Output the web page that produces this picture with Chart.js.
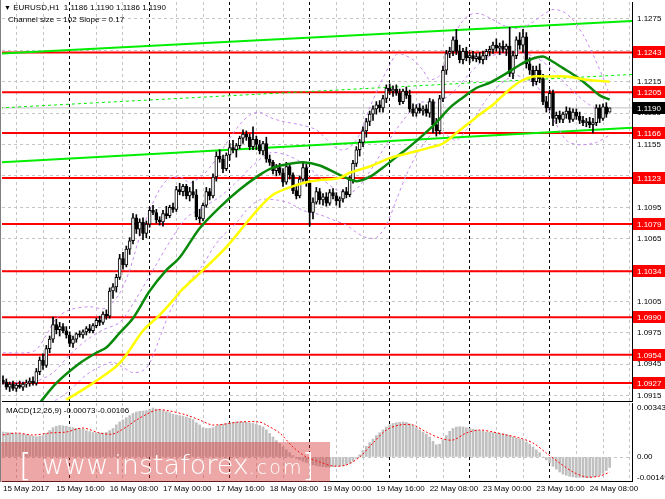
<!DOCTYPE html>
<html><head><meta charset="utf-8">
<script src="https://cdn.jsdelivr.net/npm/chart.js@4.4.0/dist/chart.umd.min.js"></script>
<style>
html,body{margin:0;padding:0;background:#fff;}
#wrap{position:relative;width:665px;height:499px;overflow:hidden;background:#fff;font-family:"Liberation Sans",Arial,sans-serif;}
canvas{position:absolute;left:0;}
#main{top:0;}
#macd{top:403px;}
.txt{position:absolute;font-size:8px;line-height:10px;color:#000;white-space:nowrap;}
#wm{position:absolute;left:1px;top:442px;width:329px;height:40px;background:rgba(214,60,60,0.45);}
.wmt{position:absolute;color:#fff;font-family:"DejaVu Sans",Verdana,sans-serif;white-space:nowrap;font-weight:300;}
#lb{position:absolute;left:0;top:0;width:1px;height:482px;background:#808080;}
</style></head>
<body><div id="wrap">
<canvas id="main" width="665" height="403"></canvas>
<canvas id="macd" width="665" height="96"></canvas>
<div id="lb"></div>
<div class="txt" style="left:4px;top:3px;"><span style="font-size:7px">▼</span> EURUSD,H1&nbsp; 1.1186 1.1190 1.1186 1.1190</div>
<div class="txt" style="left:8px;top:15px;">Channel size = 102 Slope = 0.17</div>
<div class="txt" style="left:6px;top:406px;">MACD(12,26,9) -0.00073 -0.00106</div>
<div id="wm"></div>
<div class="wmt" style="left:19px;top:448px;font-size:32px;line-height:34px;">[</div>
<div class="wmt" style="left:42px;top:450px;font-size:27px;line-height:30px;">www.instaforex<span style="font-size:19px;letter-spacing:2px;">.com</span></div>
<div class="wmt" style="left:302px;top:448px;font-size:32px;line-height:34px;">]</div>
</div>
<script>
// ---------- DATA ----------
const opens = [1.0930,1.0928,1.0923,1.0926,1.0922,1.0925,1.0923,1.0926,1.0927,1.0929,
1.0927,1.0938,1.0949,1.0944,1.0960,1.0969,1.0983,1.0978,1.0981,1.0977,
1.0973,1.0965,1.0969,1.0974,1.0973,1.0976,1.0979,1.0977,1.0982,1.0987,
1.0985,1.0993,1.0991,1.1015,1.1019,1.1028,1.1046,1.1040,1.1055,1.1063,
1.1085,1.1074,1.1081,1.1070,1.1079,1.1092,1.1090,1.1083,1.1081,1.1089,
1.1087,1.1095,1.1093,1.1112,1.1110,1.1115,1.1106,1.1110,1.1107,1.1086,
1.1084,1.1097,1.1110,1.1106,1.1124,1.1144,1.1141,1.1132,1.1145,1.1152,
1.1150,1.1154,1.1161,1.1165,1.1162,1.1153,1.1160,1.1155,1.1149,1.1156,
1.1141,1.1138,1.1130,1.1133,1.1128,1.1119,1.1134,1.1126,1.1111,1.1106,
1.1122,1.1133,1.1118,1.1090,1.1100,1.1110,1.1102,1.1105,1.1099,1.1109,
1.1106,1.1101,1.1103,1.1110,1.1107,1.1121,1.1137,1.1150,1.1157,1.1168,
1.1177,1.1184,1.1189,1.1193,1.1190,1.1199,1.1209,1.1206,1.1208,1.1204,
1.1196,1.1206,1.1202,1.1189,1.1185,1.1190,1.1187,1.1189,1.1185,1.1196,
1.1174,1.1168,1.1199,1.1226,1.1242,1.1244,1.1255,1.1244,1.1236,1.1244,
1.1238,1.1240,1.1237,1.1239,1.1236,1.1240,1.1244,1.1246,1.1250,1.1247,
1.1249,1.1246,1.1249,1.1223,1.1240,1.1255,1.1250,1.1258,1.1232,1.1226,
1.1215,1.1226,1.1218,1.1196,1.1190,1.1204,1.1180,1.1183,1.1179,1.1184,
1.1187,1.1179,1.1186,1.1182,1.1178,1.1176,1.1177,1.1174,1.1176,1.1190,
1.1180,1.1191,1.1186];
const highs = [1.0934,1.0931,1.0928,1.0929,1.0927,1.0929,1.0928,1.0930,1.0932,1.0933,
1.0941,1.0952,1.0955,1.0963,1.0972,1.0990,1.0988,1.0985,1.0984,1.0981,
1.0976,1.0972,1.0975,1.0977,1.0978,1.0981,1.0983,1.0984,1.0989,1.0991,
1.0995,1.0997,1.1018,1.1022,1.1031,1.1050,1.1052,1.1058,1.1066,1.1089,
1.1088,1.1084,1.1085,1.1082,1.1095,1.1097,1.1093,1.1086,1.1092,1.1096,
1.1097,1.1099,1.1115,1.1118,1.1117,1.1117,1.1114,1.1120,1.1112,1.1093,
1.1099,1.1114,1.1113,1.1127,1.1148,1.1150,1.1145,1.1147,1.1156,1.1159,
1.1156,1.1163,1.1169,1.1168,1.1165,1.1172,1.1163,1.1159,1.1158,1.1162,
1.1145,1.1140,1.1136,1.1137,1.1132,1.1138,1.1137,1.1128,1.1116,1.1125,
1.1138,1.1136,1.1121,1.1104,1.1114,1.1113,1.1108,1.1109,1.1112,1.1113,
1.1109,1.1105,1.1112,1.1114,1.1125,1.1140,1.1153,1.1160,1.1172,1.1180,
1.1187,1.1192,1.1196,1.1197,1.1202,1.1212,1.1213,1.1211,1.1212,1.1208,
1.1208,1.1210,1.1207,1.1194,1.1193,1.1194,1.1192,1.1193,1.1199,1.1198,
1.1180,1.1202,1.1230,1.1245,1.1248,1.1258,1.1265,1.1250,1.1247,1.1248,
1.1243,1.1244,1.1242,1.1243,1.1244,1.1246,1.1249,1.1253,1.1256,1.1252,
1.1254,1.1251,1.1267,1.1244,1.1258,1.1262,1.1265,1.1262,1.1238,1.1230,
1.1230,1.1232,1.1222,1.1201,1.1207,1.1207,1.1186,1.1187,1.1186,1.1191,
1.1190,1.1189,1.1189,1.1186,1.1182,1.1180,1.1181,1.1180,1.1193,1.1193,
1.1194,1.1195,1.1190];
const lows = [1.0926,1.0921,1.0919,1.0920,1.0919,1.0922,1.0920,1.0923,1.0924,1.0925,
1.0925,1.0935,1.0940,1.0942,1.0956,1.0966,1.0974,1.0972,1.0975,1.0970,
1.0962,1.0961,1.0966,1.0971,1.0970,1.0973,1.0975,1.0975,1.0980,1.0982,
1.0983,1.0988,1.0989,1.1008,1.1014,1.1026,1.1036,1.1038,1.1050,1.1060,
1.1070,1.1068,1.1064,1.1066,1.1076,1.1088,1.1080,1.1078,1.1077,1.1084,
1.1085,1.1090,1.1091,1.1107,1.1106,1.1103,1.1101,1.1104,1.1083,1.1080,
1.1082,1.1095,1.1102,1.1104,1.1120,1.1138,1.1128,1.1130,1.1140,1.1147,
1.1143,1.1151,1.1156,1.1159,1.1150,1.1150,1.1150,1.1146,1.1145,1.1138,
1.1135,1.1127,1.1125,1.1126,1.1115,1.1117,1.1122,1.1108,1.1103,1.1104,
1.1120,1.1115,1.1077,1.1084,1.1098,1.1098,1.1097,1.1096,1.1097,1.1103,
1.1097,1.1095,1.1100,1.1104,1.1105,1.1118,1.1134,1.1144,1.1153,1.1162,
1.1173,1.1178,1.1184,1.1186,1.1186,1.1195,1.1203,1.1201,1.1202,1.1193,
1.1194,1.1199,1.1186,1.1182,1.1182,1.1185,1.1183,1.1182,1.1181,1.1166,
1.1163,1.1165,1.1196,1.1222,1.1238,1.1240,1.1241,1.1233,1.1232,1.1235,
1.1233,1.1235,1.1234,1.1233,1.1232,1.1236,1.1240,1.1242,1.1244,1.1241,
1.1243,1.1240,1.1220,1.1218,1.1237,1.1246,1.1243,1.1228,1.1222,1.1211,
1.1212,1.1214,1.1193,1.1186,1.1188,1.1173,1.1175,1.1176,1.1176,1.1180,
1.1176,1.1177,1.1179,1.1175,1.1173,1.1172,1.1171,1.1166,1.1173,1.1176,
1.1178,1.1181,1.1186];
const closes = [1.0928,1.0923,1.0926,1.0922,1.0925,1.0923,1.0926,1.0927,1.0929,1.0927,
1.0938,1.0949,1.0944,1.0960,1.0969,1.0983,1.0978,1.0981,1.0977,1.0973,
1.0965,1.0969,1.0974,1.0973,1.0976,1.0979,1.0977,1.0982,1.0987,1.0985,
1.0993,1.0991,1.1015,1.1019,1.1028,1.1046,1.1040,1.1055,1.1063,1.1085,
1.1074,1.1081,1.1070,1.1079,1.1092,1.1090,1.1083,1.1081,1.1089,1.1087,
1.1095,1.1093,1.1112,1.1110,1.1115,1.1106,1.1110,1.1107,1.1086,1.1084,
1.1097,1.1110,1.1106,1.1124,1.1144,1.1141,1.1132,1.1145,1.1152,1.1150,
1.1154,1.1161,1.1165,1.1162,1.1153,1.1160,1.1155,1.1149,1.1156,1.1141,
1.1138,1.1130,1.1133,1.1128,1.1119,1.1134,1.1126,1.1111,1.1106,1.1122,
1.1133,1.1118,1.1090,1.1100,1.1110,1.1102,1.1105,1.1099,1.1109,1.1106,
1.1101,1.1103,1.1110,1.1107,1.1121,1.1137,1.1150,1.1157,1.1168,1.1177,
1.1184,1.1189,1.1193,1.1190,1.1199,1.1209,1.1206,1.1208,1.1204,1.1196,
1.1206,1.1202,1.1189,1.1185,1.1190,1.1187,1.1189,1.1185,1.1196,1.1174,
1.1168,1.1199,1.1226,1.1242,1.1244,1.1255,1.1244,1.1236,1.1244,1.1238,
1.1240,1.1237,1.1239,1.1236,1.1240,1.1244,1.1246,1.1250,1.1247,1.1249,
1.1246,1.1249,1.1223,1.1240,1.1255,1.1250,1.1258,1.1232,1.1226,1.1215,
1.1226,1.1218,1.1196,1.1190,1.1204,1.1180,1.1183,1.1179,1.1184,1.1187,
1.1179,1.1186,1.1182,1.1178,1.1176,1.1177,1.1174,1.1176,1.1190,1.1180,
1.1191,1.1184,1.1190];

const greenBars = [11,16,23,28,31,35,39,44,49,53,59,65,71,77,81,85,90,95,101,106,110,114,118,122,126,130,134,138,142,146,151,155,158,162,164,168,172,176,179,182];
const greenVals = [1.0908,1.0927,1.0946,1.0956,1.0961,1.0975,1.0989,1.1015,1.1035,1.1047,1.1075,1.1095,1.1112,1.1126,1.1133,1.1136,1.1138,1.1135,1.1126,1.1120,1.1124,1.1133,1.1143,1.1153,1.1164,1.1176,1.1190,1.1200,1.1209,1.1214,1.1223,1.1231,1.1236,1.1239,1.1236,1.1228,1.1220,1.1210,1.1202,1.1198];
const yellowBars = [19,27,35,42,47,51,53,60,67,73,77,81,86,91,95,101,104,110,116,122,128,132,136,140,144,147,151,155,159,163,169,175,182];
const yellowVals = [1.0911,1.0927,1.0946,1.0977,1.0992,1.1006,1.1014,1.1035,1.1057,1.1080,1.1095,1.1107,1.1114,1.1119,1.1121,1.1123,1.1128,1.1134,1.1142,1.1147,1.1152,1.1156,1.1166,1.1176,1.1186,1.1193,1.1205,1.1215,1.1220,1.1220,1.1220,1.1217,1.1215];

const upperBars = [0,7,10,13,16,20,26,30,32,35,38,41,44,47,50,54,56,60,63,67,71,74,77,80,84,89,94,98,101,104,107,110,113,116,118,120,123,126,128,131,134,137,140,143,146,150,153,156,159,162,165,168,171,174,177,180,182];
const upperVals = [1.0956,1.0956,1.0959,1.0973,1.0989,1.0997,1.1000,1.0998,1.1001,1.1013,1.1035,1.1067,1.1092,1.1112,1.1123,1.1123,1.1118,1.1126,1.1137,1.1156,1.1174,1.1183,1.1186,1.1181,1.1177,1.1174,1.1169,1.1157,1.1150,1.1152,1.1165,1.1190,1.1212,1.1231,1.1241,1.1241,1.1236,1.1226,1.1217,1.1221,1.1245,1.1269,1.1279,1.1280,1.1276,1.1269,1.1266,1.1267,1.1272,1.1279,1.1284,1.1282,1.1274,1.1260,1.1241,1.1219,1.1202];
const midBars = [0,10,15,20,25,30,35,40,45,50,55,60,65,70,75,80,85,90,95,100,105,110,115,120,125,130,135,140,145,150,155,160,165,170,175,180,182];
const midVals = [1.0927,1.0929,1.0937,1.0954,1.0968,1.0978,1.0985,1.1008,1.1035,1.1062,1.1085,1.1095,1.1105,1.1119,1.1135,1.1147,1.1145,1.1137,1.1124,1.1112,1.1110,1.1129,1.1155,1.1178,1.1195,1.1195,1.1205,1.1223,1.1238,1.1242,1.1243,1.1238,1.1226,1.1209,1.1195,1.1186,1.1184];
const lowerBars = [0,7,12,16,20,25,30,33,36,39,42,44,47,50,53,56,60,63,66,70,73,77,82,86,90,95,99,103,106,109,112,115,118,121,124,127,130,133,136,139,142,145,148,151,154,157,160,163,166,169,172,175,178,182];
const lowerVals = [1.0899,1.0906,1.0906,1.0911,1.0920,1.0935,1.0944,1.0947,1.0942,1.0937,1.0939,1.0946,1.0970,1.0995,1.1012,1.1025,1.1040,1.1056,1.1068,1.1080,1.1092,1.1102,1.1102,1.1099,1.1092,1.1088,1.1083,1.1078,1.1071,1.1066,1.1066,1.1078,1.1102,1.1126,1.1145,1.1159,1.1169,1.1164,1.1159,1.1169,1.1183,1.1198,1.1209,1.1217,1.1221,1.1217,1.1212,1.1193,1.1174,1.1159,1.1155,1.1155,1.1157,1.1164];

const channelBars = [-0.9, 188.7];
const channelTop = [1.1242, 1.1273];
const channelMid = [1.1190, 1.1222];
const channelBottom = [1.1138, 1.1171];

const levels = [1.1243, 1.1205, 1.1166, 1.1123, 1.1079, 1.1034, 1.0990, 1.0954, 1.0927];
const lastPrice = 1.1190;
const priceTicks = [1.0915,1.0945,1.0975,1.1005,1.1035,1.1065,1.1095,1.1125,1.1155,1.1185,1.1215,1.1245,1.1275];

const macdHist = [0.00175,0.00172,0.00170,0.00168,0.00165,0.00163,0.00160,0.00156,0.00150,0.00145,
0.00142,0.00145,0.00150,0.00165,0.00185,0.00205,0.00215,0.00220,0.00218,0.00215,
0.00210,0.00205,0.00200,0.00198,0.00195,0.00185,0.00178,0.00172,0.00170,0.00168,
0.00168,0.00172,0.00185,0.00200,0.00225,0.00245,0.00260,0.00275,0.00290,0.00305,
0.00315,0.00320,0.00322,0.00325,0.00332,0.00343,0.00335,0.00330,0.00325,0.00318,
0.00310,0.00300,0.00295,0.00290,0.00285,0.00280,0.00272,0.00262,0.00240,0.00225,
0.00205,0.00200,0.00200,0.00205,0.00215,0.00225,0.00230,0.00235,0.00240,0.00242,
0.00245,0.00246,0.00245,0.00243,0.00238,0.00235,0.00228,0.00220,0.00210,0.00190,
0.00165,0.00140,0.00115,0.00095,0.00070,0.00050,0.00030,0.00010,-0.00010,-0.00020,
-0.00030,-0.00038,-0.00050,-0.00055,-0.00060,-0.00065,-0.00068,-0.00070,-0.00070,-0.00068,
-0.00066,-0.00062,-0.00060,-0.00055,-0.00045,-0.00030,-0.00010,0.00015,0.00045,0.00075,
0.00100,0.00125,0.00150,0.00170,0.00190,0.00210,0.00225,0.00235,0.00240,0.00242,
0.00245,0.00242,0.00232,0.00220,0.00205,0.00190,0.00175,0.00160,0.00140,0.00110,
0.00085,0.00090,0.00120,0.00150,0.00180,0.00200,0.00210,0.00212,0.00210,0.00205,
0.00200,0.00195,0.00190,0.00185,0.00180,0.00175,0.00172,0.00170,0.00168,0.00165,
0.00162,0.00158,0.00150,0.00140,0.00132,0.00125,0.00120,0.00105,0.00090,0.00070,
0.00050,0.00030,0.00000,-0.00020,-0.00040,-0.00065,-0.00085,-0.00105,-0.00120,-0.00128,
-0.00135,-0.00140,-0.00142,-0.00143,-0.00144,-0.00144,-0.00143,-0.00140,-0.00135,-0.00128,
-0.00115,-0.00095,-0.00073];
const signalBars = [0,4,9,14,19,24,29,33,37,40,46,50,55,59,63,71,77,79,83,87,91,95,99,103,107,111,115,119,123,127,131,135,139,143,147,151,155,159,163,167,171,175,179,182];
const signalVals = [0.00154,0.00168,0.00154,0.00168,0.00175,0.00203,0.00168,0.00161,0.00210,0.00259,0.00329,0.00322,0.00294,0.00259,0.00224,0.00245,0.00245,0.00224,0.00168,0.00070,0.00000,-0.00035,-0.00063,-0.00056,0.00000,0.00098,0.00189,0.00224,0.00224,0.00175,0.00133,0.00119,0.00168,0.00189,0.00175,0.00154,0.00133,0.00098,0.00028,-0.00042,-0.00105,-0.00140,-0.00133,-0.00106];
const macdTicks = [-0.00149, 0, 0.00343];

const gridBars = [0,8,16,24,32,40,48,56,64,72,80,88,96,104,112,120,128,136,144,152,160,168,176,184];
const dateTickBars = [0,16,32,48,64,80,96,112,128,144,160,176];
const dateTickLabels = ['15 May 2017','15 May 16:00','16 May 08:00','17 May 00:00','17 May 16:00','18 May 08:00','19 May 00:00','19 May 16:00','22 May 08:00','23 May 00:00','23 May 16:00','24 May 08:00'];

// ---------- STYLE / CHARTS ----------
Chart.defaults.font.family = '"Liberation Sans", Arial, sans-serif';
Chart.defaults.font.size = 8;
Chart.defaults.color = '#000';
const GRID = '#c4c4c4';

function xScale(showLabels) {
  return {
    type: 'linear', min: -0.3, max: 188.7, offset: false,
    afterBuildTicks: s => { s.ticks = gridBars.map(v => ({value: v})); },
    afterFit: s => { s.height = showLabels ? 18 : 0; s.paddingLeft = 0; s.paddingRight = 0; s.paddingTop = 0; s.paddingBottom = 0; },
    grid: { color: c => (c.tick && c.tick.value % 24 === 0) ? '#000' : GRID, lineWidth: 1, drawTicks: false },
    border: { display: true, color: '#000', dash: [3, 3] },
    ticks: showLabels ? {
      autoSkip: false, maxRotation: 0, minRotation: 0, align: 'start', padding: 3,
      callback: v => { const k = dateTickBars.indexOf(v); return k >= 0 ? dateTickLabels[k] : ''; }
    } : { display: false }
  };
}
const yFit = s => { s.width = 33; s.paddingTop = 0; s.paddingBottom = 0; s.paddingLeft = 0; s.paddingRight = 0; };
const pts = (xs, ys) => xs.map((x, i) => ({x: x, y: ys[i]}));
const lineDs = (data, color, width, dash, tension) => ({
  type: 'line', data: data, borderColor: color, borderWidth: width, borderDash: dash || [],
  pointRadius: 0, fill: false, tension: tension || 0
});

const levelBoxes = {
  id: 'levelBoxes',
  afterDraw(chart) {
    const ys = chart.scales.y, ctx = chart.ctx, x0 = chart.chartArea.right + 1;
    ctx.save();
    ctx.font = '8px "Liberation Sans", Arial, sans-serif';
    ctx.textBaseline = 'middle';
    const box = (v, bg) => {
      const py = Math.round(ys.getPixelForValue(v));
      ctx.fillStyle = bg; ctx.fillRect(x0, py - 6, 665 - x0, 12);
      ctx.fillStyle = '#fff'; ctx.fillText(v.toFixed(4), x0 + 4, py + 0.5);
    };
    levels.forEach(v => box(v, '#ff0000'));
    box(lastPrice, '#000');
    ctx.restore();
  }
};

const datasets = [
  lineDs(pts(yellowBars, yellowVals), '#ffff00', 2.5, null, 0.3),
  lineDs(pts(greenBars, greenVals), '#0a8a0a', 2.5, null, 0.3),
  {
    type: 'bar', grouped: false, barThickness: 3, borderWidth: 1, borderColor: '#000', borderSkipped: false,
    data: opens.map((o, i) => ({x: i, y: [Math.min(o, closes[i]), Math.max(o, closes[i])]})),
    backgroundColor: opens.map((o, i) => closes[i] >= o ? '#ffffff' : '#000000')
  },
  {
    type: 'bar', grouped: false, barThickness: 1, borderWidth: 0, backgroundColor: '#000',
    data: highs.map((h, i) => ({x: i, y: [lows[i], h]}))
  },
  lineDs(pts(upperBars, upperVals), '#c88cf0', 1, [3, 3], 0.3),
  lineDs(pts(midBars, midVals), '#c88cf0', 1, [3, 3], 0.3),
  lineDs(pts(lowerBars, lowerVals), '#c88cf0', 1, [3, 3], 0.3),
  lineDs(pts(channelBars, channelTop), '#00ee00', 2),
  lineDs(pts(channelBars, channelMid), '#00ee00', 1, [3, 3]),
  lineDs(pts(channelBars, channelBottom), '#00ee00', 2),
  ...levels.map(L => lineDs([{x: -1, y: L}, {x: 190, y: L}], '#ff0000', 2)),
  lineDs([{x: -1, y: lastPrice}, {x: 190, y: lastPrice}], '#c0c0c0', 1)
];

new Chart(document.getElementById('main'), {
  type: 'bar',
  data: { datasets: datasets },
  options: {
    responsive: false, animation: false, events: [],
    layout: { autoPadding: false, padding: { left: 2, top: 2, right: 0, bottom: 2 } },
    plugins: { legend: { display: false }, tooltip: { enabled: false } },
    scales: {
      x: xScale(false),
      y: {
        type: 'linear', position: 'right', min: 1.09099, max: 1.12912,
        afterBuildTicks: s => { s.ticks = priceTicks.map(v => ({value: v})); },
        afterFit: yFit,
        grid: { color: GRID, drawTicks: false },
        border: { display: true, color: '#000', dash: [3, 3] },
        ticks: { padding: 5, autoSkip: false, callback: v => v.toFixed(4) }
      }
    }
  },
  plugins: [levelBoxes]
});

new Chart(document.getElementById('macd'), {
  type: 'bar',
  data: { datasets: [
    lineDs(pts(signalBars, signalVals), '#ff0000', 1, [2, 2], 0.3),
    { type: 'bar', grouped: false, barThickness: 2, backgroundColor: '#c0c0c0', borderWidth: 0,
      data: macdHist.map((v, i) => ({x: i, y: v})) }
  ]},
  options: {
    responsive: false, animation: false, events: [],
    layout: { autoPadding: false, padding: { left: 2, top: 0, right: 0, bottom: 0 } },
    plugins: { legend: { display: false }, tooltip: { enabled: false } },
    scales: {
      x: xScale(true),
      y: {
        type: 'linear', position: 'right', min: -0.00168, max: 0.00378,
        afterBuildTicks: s => { s.ticks = macdTicks.map(v => ({value: v})); },
        afterFit: yFit,
        grid: { color: c => (c.tick && c.tick.value === 0) ? GRID : 'rgba(0,0,0,0)', drawTicks: false },
        border: { display: true, color: '#000', dash: [3, 3] },
        ticks: { padding: 5, autoSkip: false, callback: v => v === 0 ? '0.00' : v.toFixed(5) }
      }
    }
  }
});
</script>
</body></html>
